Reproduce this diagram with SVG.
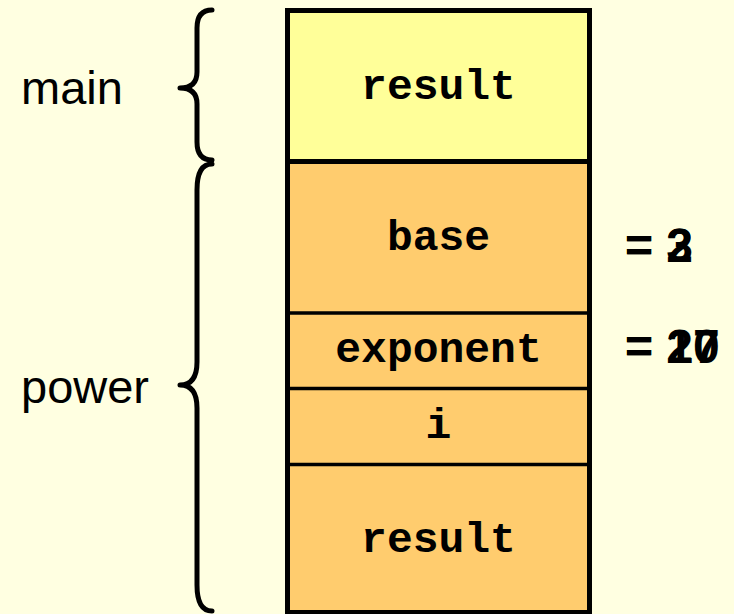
<svg xmlns="http://www.w3.org/2000/svg" width="734" height="614" viewBox="0 0 734 614">
<style>
.lbl{font-family:"Liberation Sans",Arial,sans-serif;font-size:47px;fill:#000}
.var{font-family:"Liberation Mono","Courier New",monospace;font-weight:bold;font-size:43px;fill:#000;text-anchor:middle}
.val{font-family:"Liberation Sans",Arial,sans-serif;font-weight:bold;font-size:48px;fill:#000}
.brace{fill:none;stroke:#000;stroke-width:5;stroke-linecap:round;stroke-linejoin:round}
.thin{stroke:#000;stroke-width:3.5}
</style>
<rect x="0" y="0" width="734" height="614" fill="#FFFFE1"/>
<g id="frame-main">
<rect x="287.5" y="10.5" width="302" height="151" fill="#FFFF99" stroke="#000" stroke-width="5"/>
<text class="var" x="438.5" y="99">result</text>
</g>
<g id="frame-power">
<rect x="287.5" y="161.5" width="302" height="451" fill="#FFCC6E" stroke="#000" stroke-width="5"/>
<line class="thin" x1="287.5" y1="313" x2="589.5" y2="313"/>
<line class="thin" x1="287.5" y1="388.5" x2="589.5" y2="388.5"/>
<line class="thin" x1="287.5" y1="464.5" x2="589.5" y2="464.5"/>
<text class="var" x="438.5" y="250">base</text>
<text class="var" x="438.5" y="362">exponent</text>
<text class="var" x="438.5" y="438">i</text>
<text class="var" x="438.5" y="552">result</text>
</g>
<g id="braces">
<path class="brace" d="M212,10 Q197,10 197,28 L197,72 Q197,88 180,88 Q197,88 197,104 L197,142 Q197,160 212,160"/>
<path class="brace" d="M212,164 Q197,164 197,190 L197,362 Q197,385 180,385 Q197,385 197,408 L197,585 Q197,611 212,611"/>
</g>
<g id="labels">
<text class="lbl" x="21" y="104">main</text>
<text class="lbl" x="21" y="403">power</text>
</g>
<g id="values">
<text class="val" x="625" y="262">= 3</text>
<text class="val" x="625" y="262">= 2</text>
<text class="val" x="625" y="363">= 17</text>
<text class="val" x="625" y="363">= 20</text>
</g>
</svg>
